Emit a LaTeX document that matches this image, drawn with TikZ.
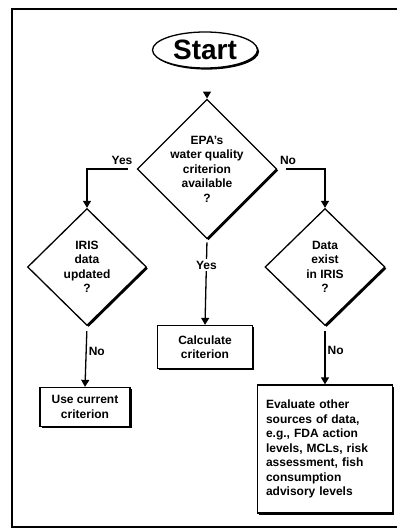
\documentclass[tikz,border=0pt]{standalone}
\usepackage{fontspec}
\setmainfont{Liberation Sans}
\usetikzlibrary{arrows.meta}
\usetikzlibrary{shapes.geometric}
\usetikzlibrary{shadows}
\tikzset{txt/.style={font=\bfseries\fontsize{12}{14.5}\selectfont},
	shade/.style={drop shadow={shadow xshift=1.6pt,shadow yshift=-1.6pt,opacity=1,fill=black}},
	query/.style={txt,shade,draw,fill=white,diamond,aspect=1,inner sep=0pt,align=center},
	task/.style={txt,shade,draw,fill=white,rectangle,align=center,inner sep=3pt},
	answer/.style={txt,inner sep=2pt}}

\begin{document}
\begin{tikzpicture}[x=1pt,y=-1pt,line width=1.3pt,>={Triangle[width=8pt,length=7pt]}]
		\useasboundingbox (0,0) rectangle (398,529);
		\draw (397,9) -- (12,9) -- (12,527) -- (397,527);
		\begin{scope}
			\node[shade,draw,fill=white,ellipse,minimum width=105pt,minimum height=36pt,inner sep=0pt,
				font=\bfseries\fontsize{28}{28}\selectfont] (St) at (205,50) {Start};
			\node[query,minimum width=120pt,minimum height=114pt] (Q1) at (207,169)
				{EPA's\\water quality\\criterion\\available\\?};
			\node[query,minimum width=119pt,minimum height=117pt] (Q2) at (87,267)
				{IRIS\\data\\updated\\?};
			\node[query,minimum width=120pt,minimum height=117pt] (Q3) at (325,267)
				{Data\\exist\\in IRIS\\?};
			\node[task,minimum width=95pt,minimum height=43pt] (Calc) at (205,347)
				{Calculate\\criterion};
			\node[task,minimum width=90pt,minimum height=39pt] (Use) at (85,407)
				{Use current\\criterion};
			\node[task,align=left,text width=118pt,minimum width=135pt,minimum height=128pt] (Eval) at (325,449)
				{Evaluate other\\sources of data,\\e.g., FDA action\\levels, MCLs, risk\\assessment, fish\\consumption\\advisory levels};
		\end{scope}
		\coordinate (s0) at (207,95);
		\begin{scope}[every node/.style={answer}]
			\draw[->] (s0) -- (Q1.north);
			\draw[->,shorten <=9pt] (Q1.west) -| (Q2.north);
			\draw[->,shorten <=9pt] (Q1.east) -| (Q3.north);
			\node at (122,160) {Yes};
			\node at (288,160) {No};
			\path[->] (Q1.south) edge[shorten <=3pt] node[fill=white,pos=0.3] {Yes} (Calc.north);
			\path[->] (Q2.south) edge[shorten <=5pt] node[right,pos=0.42] {No} (Use.north);
			\path[->] (Q3.south) edge[shorten <=5pt] node[right,pos=0.42] {No} (Eval.north);
		\end{scope}
	\end{tikzpicture}
\end{document}
